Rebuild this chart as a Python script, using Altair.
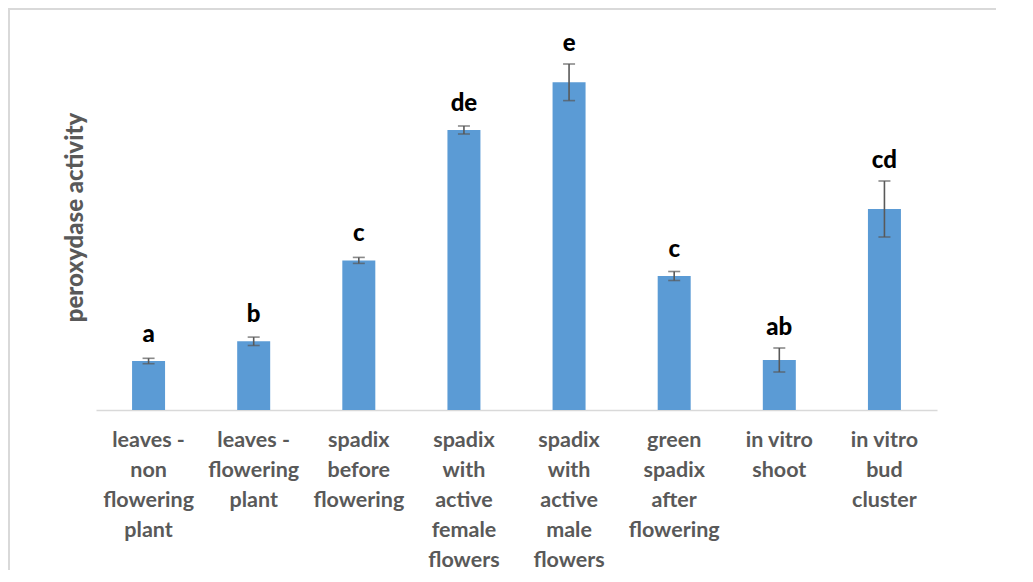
import altair as alt
import pandas as pd

categories = [
    "leaves -\nnon\nflowering\nplant",
    "leaves -\nflowering\nplant",
    "spadix\nbefore\nflowering",
    "spadix\nwith\nactive\nfemale\nflowers",
    "spadix\nwith\nactive\nmale\nflowers",
    "green\nspadix\nafter\nflowering",
    "in vitro\nshoot",
    "in vitro\nbud\ncluster",
]
values = [49, 68.7, 149.6, 280, 327.7, 134, 50, 201]
errors = [2.7, 4.2, 3.0, 4.0, 18.3, 4.5, 12, 28]
letters = ["a", "b", "c", "de", "e", "c", "ab", "cd"]

df = pd.DataFrame({"cat": categories, "val": values, "err": errors, "letter": letters})

GRAY = "#595959"
x_enc = alt.X(
    "cat:N",
    sort=categories,
    title=None,
    scale=alt.Scale(paddingInner=0, paddingOuter=0),
    axis=alt.Axis(
        labelExpr="split(datum.label, '\\n')",
        labelAngle=0,
        labelFont="Lato",
        labelFontSize=21.5,
        labelFontWeight="bold",
        labelColor=GRAY,
        labelLineHeight=30,
        labelPadding=19,
        labelBaseline="top",
        ticks=False,
        domainColor="#d9d9d9",
        domainWidth=1.5,
        labelLimit=200,
    ),
)
y_scale = alt.Scale(domain=[0, 400], nice=False)

base = alt.Chart(df).transform_calculate(
    lo="datum.val - datum.err",
    hi="datum.val + datum.err",
    ly="max(datum.val + 19, datum.val + datum.err + 13)",
)

bars = base.mark_bar(size=33, color="#5b9bd5").encode(
    x=x_enc,
    y=alt.Y(
        "val:Q",
        scale=y_scale,
        title="peroxydase activity",
        axis=alt.Axis(
            labels=False,
            ticks=False,
            domain=False,
            grid=False,
            titleFont="Lato",
            titleFontSize=24,
            titleFontWeight=900,
            titleColor=GRAY,
            titlePadding=9,
            titleY=207,
        ),
    ),
)
rules = base.mark_rule(color=GRAY, strokeWidth=1.6).encode(
    x=alt.X("cat:N", sort=categories), y=alt.Y("lo:Q", scale=y_scale), y2="hi:Q"
)
cap_lo = base.mark_tick(color=GRAY, size=12, thickness=1.6, orient="horizontal").encode(
    x=alt.X("cat:N", sort=categories), y=alt.Y("lo:Q", scale=y_scale)
)
cap_hi = base.mark_tick(color=GRAY, size=12, thickness=1.6, orient="horizontal").encode(
    x=alt.X("cat:N", sort=categories), y=alt.Y("hi:Q", scale=y_scale)
)
text = base.mark_text(
    font="Lato", fontSize=24, fontWeight=900, color="black", baseline="alphabetic"
).encode(
    x=alt.X("cat:N", sort=categories), y=alt.Y("ly:Q", scale=y_scale), text="letter:N"
)

frame_data = pd.DataFrame({"d": [0]})
frame_left = alt.Chart(frame_data).mark_rect(color="#d9d9d9", clip=False).encode(
    x=alt.value(-88), x2=alt.value(-86), y=alt.value(-2), y2=alt.value(560)
)
frame_top = alt.Chart(frame_data).mark_rect(color="#d9d9d9", clip=False).encode(
    x=alt.value(-88), x2=alt.value(900), y=alt.value(-2), y2=alt.value(0)
)

chart = (
    alt.layer(bars, rules, cap_lo, cap_hi, text, frame_left, frame_top)
    .properties(
        width=841,
        height=400,
        autosize=alt.AutoSizeParams(type="none"),
        padding={"left": 88, "top": 2, "right": 88, "bottom": 160},
    )
    .configure_view(stroke=None)
)

chart.save("out.html", embed_options={"renderer": "svg", "actions": False})
